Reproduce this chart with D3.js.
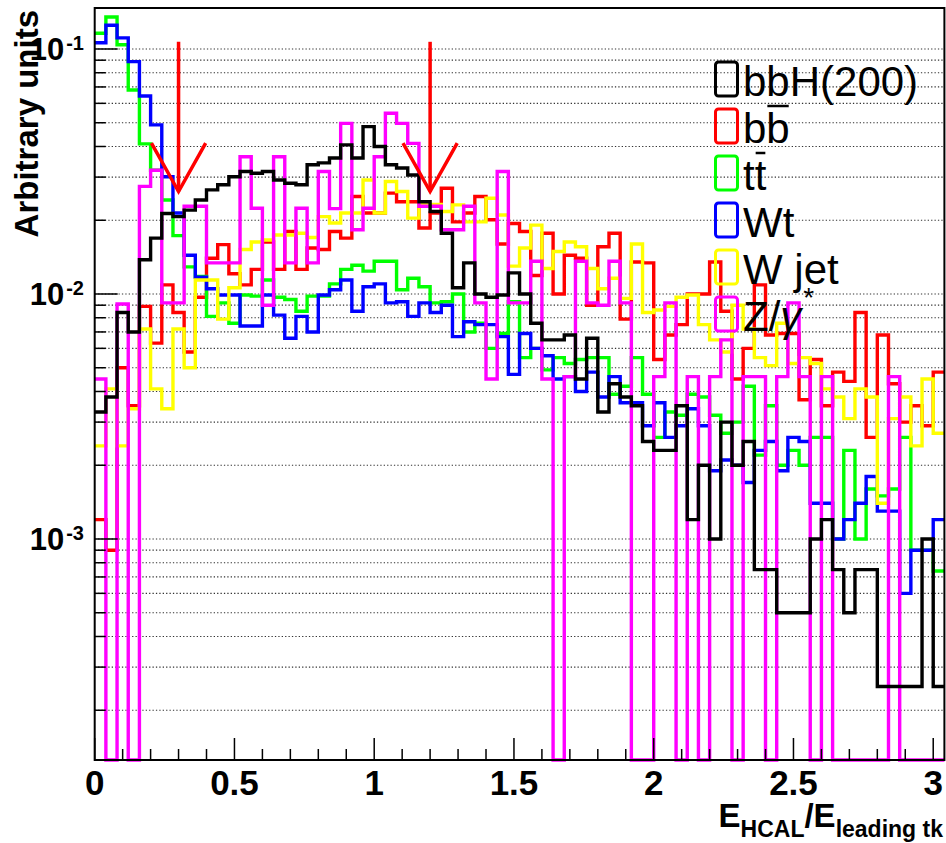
<!DOCTYPE html>
<html>
<head>
<meta charset="utf-8">
<script src="https://cdn.jsdelivr.net/npm/d3@7"></script>
<style>
    body { margin: 0; background: white; }
    svg { display: block; font-family: "Liberation Sans", Arial, Helvetica, sans-serif; }
</style>
</head>
<body>
<svg id="plot" width="946" height="843"></svg>
<script>
// 76 bins of width 0.04 between 0 and 3.04
const binWidth = 0.04;
const nBins = 76;

// bin contents (0 = empty bin)
const bbH200 = [0.0033,0.0038,0.0084,0.0070,0.0138,0.0169,0.0213,0.0207,0.0220,0.0242,
    0.0266,0.0279,0.0301,0.0316,0.0311,0.0316,0.0292,0.0283,0.0279,0.0337,
    0.0343,0.0359,0.0406,0.0359,0.0482,0.0400,0.0337,0.0327,0.0306,0.0238,
    0.0217,0.0177,0.0106,0.0134,0.0100,0.0097,0.0099,0.0122,0.0100,0.0076,
    0.0065,0.0065,0.0068,0.0045,0.0066,0.0033,0.0043,0.0038,0.0035,0.0025,
    0.0023,0.0023,0.0035,0.0012,0.0020,0.0010,0.0030,0.0020,0.0025,0.00075,
    0.00075,0.0005,0.0005,0.0005,0.0010,0.0012,0.00075,0.0005,0.00075,0.00075,
    0.00025,0.00025,0.00025,0.00025,0.0010,0.00025];

const bbbar = [0.0012,0.0009,0.0050,0.0035,0.0089,0.0063,0.0109,0.0084,0.0058,0.0097,
    0.0140,0.0159,0.0121,0.0109,0.0126,0.0163,0.0126,0.0180,0.0126,0.0154,
    0.0152,0.0180,0.0169,0.0250,0.0214,0.0214,0.0258,0.0238,0.0238,0.0186,
    0.0214,0.0270,0.0197,0.0214,0.0250,0.0201,0.0160,0.0194,0.0180,0.0119,
    0.0177,0.0100,0.0144,0.0140,0.0090,0.0156,0.0177,0.0079,0.0135,0.0134,
    0.0054,0.0068,0.0075,0.0100,0.0100,0.0135,0.0085,0.0045,0.0060,0.0109,
    0.0068,0.0069,0.0069,0.0037,0.0054,0.0035,0.0048,0.0044,0.0084,0.0026,
    0.0068,0.0043,0.0030,0.0035,0.0029,0.0048];

const ttbar = [0.116,0.135,0.104,0.068,0.041,0.032,0.0242,0.0173,0.0129,0.0118,
    0.0081,0.0092,0.0076,0.0099,0.0098,0.0114,0.0097,0.0095,0.0085,0.0098,
    0.0098,0.0110,0.0126,0.0131,0.0124,0.0136,0.0136,0.0104,0.0116,0.0107,
    0.0092,0.0093,0.0100,0.0070,0.0076,0.0060,0.0069,0.0093,0.0055,0.0060,
    0.0049,0.0055,0.0052,0.0054,0.0055,0.0055,0.0039,0.0042,0.0055,0.0039,
    0.0026,0.0033,0.0032,0.0039,0.0038,0.0032,0.0027,0.0030,0.0042,0.0022,
    0.0035,0.0020,0.0023,0.0020,0.0026,0.0026,0.0010,0.0023,0.0010,0.0016,
    0.0015,0.0016,0.0026,0.0009,0.0009,0.00074];

const wt = [0.106,0.125,0.111,0.0888,0.0643,0.049,0.0301,0.0214,0.0144,0.0117,
    0.0105,0.0099,0.0099,0.0074,0.0074,0.0099,0.0082,0.0066,0.0081,0.0070,
    0.0099,0.0104,0.0114,0.0085,0.0107,0.0110,0.0092,0.0093,0.0081,0.0092,
    0.0084,0.0090,0.0067,0.0077,0.0075,0.0075,0.0067,0.0047,0.0069,0.0060,
    0.0056,0.0045,0.0046,0.0040,0.0048,0.0038,0.0046,0.0036,0.0036,0.0029,
    0.0036,0.0026,0.0029,0.0034,0.0029,0.0019,0.0021,0.0020,0.0017,0.0023,
    0.0025,0.0019,0.0026,0.0025,0.0014,0.0014,0.0010,0.0012,0.0014,0.0018,
    0.0013,0.0013,0.0006,0.0009,0.0009,0.0012];

const wjet = [0.0024,0.0041,0.0024,0.0034,0.0072,0.0041,0.0034,0.0072,0.0050,0.0114,
    0.0114,0.0079,0.0106,0.0152,0.0163,0.0166,0.0174,0.0174,0.0177,0.0170,
    0.0207,0.0195,0.0214,0.0214,0.0292,0.0214,0.0288,0.0262,0.0204,0.0232,
    0.0232,0.0217,0.0231,0.0197,0.0197,0.0246,0.0210,0.0130,0.0154,0.0191,
    0.0127,0.0149,0.0163,0.0156,0.0127,0.0105,0.0116,0.0096,0.0160,0.0084,
    0.0086,0.0089,0.0097,0.0099,0.0075,0.0065,0.0058,0.0090,0.0072,0.0055,
    0.0051,0.0076,0.0052,0.0055,0.0052,0.0041,0.0038,0.0031,0.0041,0.0038,
    0.0014,0.0031,0.0038,0.0024,0.0045,0.0027];

const zgamma = [0.0045,0,0.0091,0,0.0275,0.0320,0.0092,0.0092,0.0228,0.0228,
    0.0134,0.0134,0.0134,0.0363,0.0224,0.0090,0.0363,0.0134,0.0224,0.0134,
    0.0316,0.0223,0.0497,0.0183,0.0224,0.0363,0.0547,0.0497,0.0412,0.0228,
    0.0228,0.0183,0.0183,0.0228,0.0092,0.0045,0.0316,0.0092,0.0092,0.0136,
    0.0045,0,0.0046,0.0136,0.0092,0.0090,0.0136,0.0092,0,0,
    0.0046,0.0092,0,0.0046,0,0.0046,0.0065,0,0.0046,0.0046,
    0,0.0046,0.0092,0.0046,0,0.0046,0,0,0,0,
    0,0.0046,0,0,0,0];

const legendNames = ["bbH(200)", "bb", "tt", "Wt", "W jet", "Z/γ"];
const legendColors = ["#000000", "#ff0000", "#00ff00", "#0000ff", "#ffff00", "#ff00ff"];

// cut arrows: x position, top and tip of the shaft
const arrowX = [0.3, 1.2];
const arrowTop = 0.107;
const arrowTip = 0.0262;

const xTickMajor = [0, 0.5, 1, 1.5, 2, 2.5, 3];
const xTickLabels = ["0", "0.5", "1", "1.5", "2", "2.5", "3"];
const yDecades = [1e-3, 1e-2, 1e-1];
const yDecadeLabels = ["-3", "-2", "-1"];

const svg = d3.select("#plot");
const frame = {left: 94.7, right: 944.4, top: 8, bottom: 760};

const x = d3.scaleLinear().domain([0, nBins * binWidth]).range([frame.left, frame.right]);
const y = d3.scaleLog().domain([1.253e-4, 0.147]).range([frame.bottom, frame.top]);
const yMin = y.domain()[0];

// dotted horizontal grid at every log tick
let gridVals = [];
[1e-4, 1e-3, 1e-2, 1e-1].forEach(d => {
    for (let k = 1; k <= 9; k++) {
        let v = k * d;
        if (v > yMin && v <= y.domain()[1]) gridVals.push(v);
    }
});

svg.append("g").selectAll("line").data(gridVals).enter().append("line")
    .attr("x1", frame.left).attr("x2", frame.right)
    .attr("y1", d => y(d)).attr("y2", d => y(d))
    .attr("stroke", "#333").attr("stroke-width", 1.2)
    .attr("stroke-dasharray", "1.3,2.1");

// histograms
svg.append("clipPath").attr("id", "clip").append("rect")
    .attr("x", frame.left - 2).attr("y", frame.top)
    .attr("width", frame.right - frame.left + 4).attr("height", frame.bottom - frame.top + 3);

const stepLine = d3.line().curve(d3.curveStepAfter);
function histPoints(values) {
    let pts = values.map((v, i) => [x(i * binWidth), y(Math.max(v, yMin))]);
    pts.push([x(nBins * binWidth), y(Math.max(values[nBins - 1], yMin))]);
    return pts;
}

const drawOrder = [
    {values: bbbar, color: legendColors[1]},
    {values: ttbar, color: legendColors[2]},
    {values: wt, color: legendColors[3]},
    {values: wjet, color: legendColors[4]},
    {values: zgamma, color: legendColors[5]},
    {values: bbH200, color: legendColors[0]}
];

svg.append("g").attr("clip-path", "url(#clip)")
    .selectAll("path").data(drawOrder).enter().append("path")
    .attr("d", d => stepLine(histPoints(d.values)))
    .attr("fill", "none")
    .attr("stroke", d => d.color)
    .attr("stroke-width", 3.4)
    .attr("stroke-linejoin", "miter");

// frame
svg.append("rect")
    .attr("x", frame.left).attr("y", frame.top)
    .attr("width", frame.right - frame.left).attr("height", frame.bottom - frame.top)
    .attr("fill", "none").attr("stroke", "black").attr("stroke-width", 2);

// x ticks
let xMinor = d3.range(0, 31).map(i => i / 10);
svg.append("g").selectAll("line").data(xMinor).enter().append("line")
    .attr("x1", d => x(d)).attr("x2", d => x(d))
    .attr("y1", frame.bottom)
    .attr("y2", d => frame.bottom - (Math.abs(d * 2 - Math.round(d * 2)) < 1e-6 ? 22 : 11))
    .attr("stroke", "black").attr("stroke-width", 1.5);

svg.append("g").selectAll("text").data(xTickMajor).enter().append("text")
    .attr("x", d => x(d)).attr("y", 795)
    .attr("text-anchor", "middle")
    .attr("font-size", 35).attr("font-weight", "bold")
    .text((d, i) => xTickLabels[i]);

// y ticks
svg.append("g").selectAll("line").data(gridVals).enter().append("line")
    .attr("x1", frame.left)
    .attr("x2", d => frame.left + (yDecades.includes(d) ? 23 : 11))
    .attr("y1", d => y(d)).attr("y2", d => y(d))
    .attr("stroke", "black").attr("stroke-width", 1.5);

let yLab = svg.append("g").selectAll("text").data(yDecades).enter().append("text")
    .attr("x", 84).attr("y", d => y(d) + 11)
    .attr("text-anchor", "end")
    .attr("font-weight", "bold");
yLab.append("tspan").attr("font-size", 31).text("10");
yLab.append("tspan").attr("font-size", 20).attr("dx", 2).attr("dy", -10)
    .text((d, i) => yDecadeLabels[i]);

// axis titles
let xt = svg.append("text")
    .attr("x", 943).attr("y", 827)
    .attr("text-anchor", "end")
    .attr("font-weight", "bold").attr("font-size", 33);
xt.append("tspan").text("E");
xt.append("tspan").attr("font-size", 23).attr("dy", 10).text("HCAL");
xt.append("tspan").attr("dy", -10).text("/E");
xt.append("tspan").attr("font-size", 23).attr("dy", 10).text("leading tk");

svg.append("text")
    .attr("transform", "translate(38,10) rotate(-90)")
    .attr("text-anchor", "end")
    .attr("font-weight", "bold").attr("font-size", 33)
    .text("Arbitrary units");

// arrows
let arrows = svg.append("g").attr("stroke", "#ff0000").attr("stroke-width", 3.5).attr("fill", "none");
arrowX.forEach(ax => {
    let tipX = x(ax), tipY = y(arrowTip);
    arrows.append("line").attr("x1", tipX).attr("x2", tipX).attr("y1", y(arrowTop)).attr("y2", tipY);
    arrows.append("path")
        .attr("d", `M${x(ax - 0.097)},${y(0.0413)}L${tipX},${tipY}L${x(ax + 0.097)},${y(0.0413)}`);
});

// legend
const legX = 714, legY0 = 79, legDy = 47;
let leg = svg.append("g").selectAll("g").data(legendNames).enter().append("g")
    .attr("transform", (d, i) => `translate(${legX},${legY0 + i * legDy})`);

leg.append("rect")
    .attr("x", 1.5).attr("y", -17).attr("width", 22).attr("height", 34)
    .attr("rx", 3).attr("fill", "none")
    .attr("stroke", (d, i) => legendColors[i]).attr("stroke-width", 3);

leg.each(function(d, i) {
    let g = d3.select(this);
    let t = g.append("text").attr("x", 29).attr("y", 17).attr("font-size", 42);
    if (i == 5) {
        t.append("tspan").text("Z/");
        t.append("tspan").attr("font-style", "italic").text("γ");
        t.append("tspan").attr("font-size", 28).attr("dy", -24).attr("dx", 2).text("*");
    } else {
        t.text(d);
    }
    if (i == 1 || i == 2) {
        // bar over the second letter
        let node = t.node();
        let s = node.getStartPositionOfChar(1).x;
        let e = node.getEndPositionOfChar(1).x;
        g.append("line").attr("x1", s + 1).attr("x2", e - 1)
            .attr("y1", 17 - 37).attr("y2", 17 - 37)
            .attr("stroke", "black").attr("stroke-width", 2.5);
    }
});
</script>
</body>
</html>
